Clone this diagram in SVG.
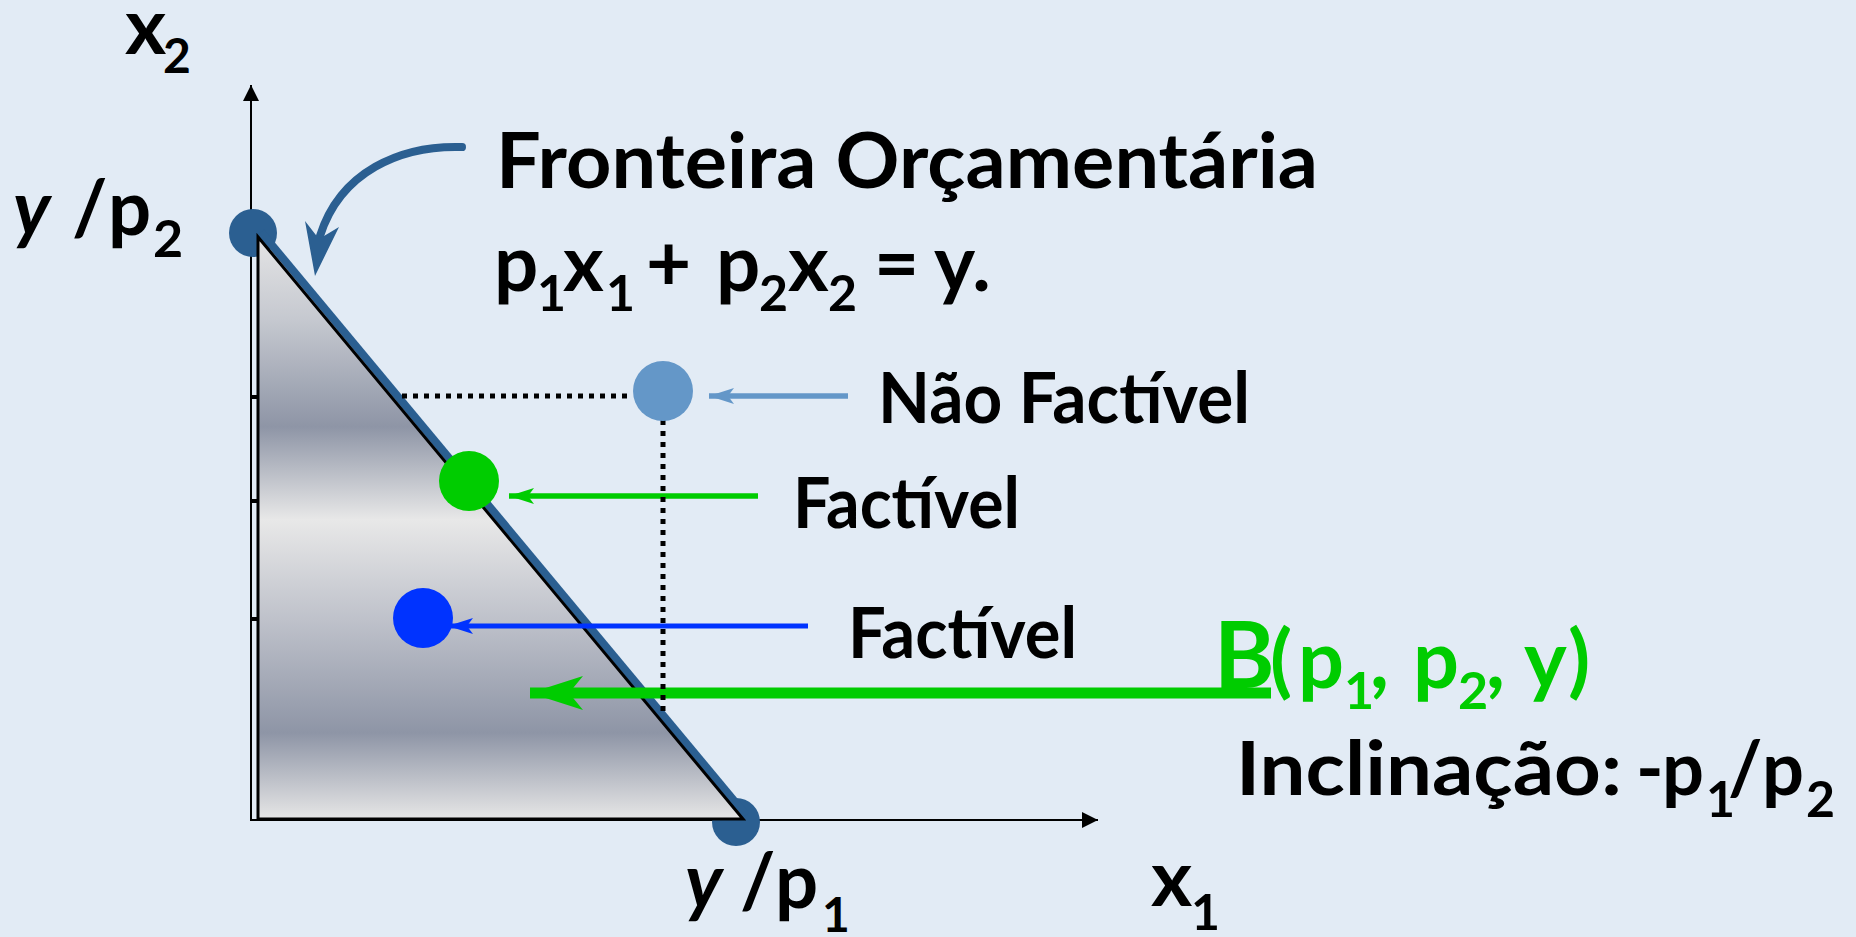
<svg xmlns="http://www.w3.org/2000/svg" width="1856" height="937" viewBox="0 0 1856 937">
<defs>
<style>
.t{font-family:"Lato","Open Sans",sans-serif;font-weight:bold;fill:#000}
.g{fill:#00CC00}
.it{font-style:italic}
.dot{stroke:#000;stroke-width:5;stroke-dasharray:5 6;fill:none}
.ax{stroke:#000;stroke-width:2;fill:none}
</style>
<linearGradient id="chrome" x1="0" y1="0" x2="0" y2="1">
<stop offset="0" stop-color="#E4E4E5"/>
<stop offset="0.14" stop-color="#C6C9D0"/>
<stop offset="0.326" stop-color="#8E95A6"/>
<stop offset="0.486" stop-color="#E8E8E8"/>
<stop offset="0.66" stop-color="#BEC1CA"/>
<stop offset="0.852" stop-color="#8E95A6"/>
<stop offset="1" stop-color="#E6E6E6"/>
</linearGradient>
<marker id="axh" markerUnits="userSpaceOnUse" viewBox="0 0 16 16" refX="16" refY="8" markerWidth="16" markerHeight="16" orient="auto"><path d="M0 0 L16 8 L0 16 Z" fill="#000"/></marker>
<marker id="hLb" markerUnits="userSpaceOnUse" viewBox="0 0 26 16" refX="25" refY="8" markerWidth="26" markerHeight="16" orient="auto"><path d="M0 0 L25 8 L0 16 L6 8 Z" fill="#6497C8"/></marker>
<marker id="hG" markerUnits="userSpaceOnUse" viewBox="0 0 26 16" refX="25" refY="8" markerWidth="26" markerHeight="16" orient="auto"><path d="M0 0 L25 8 L0 16 L6 8 Z" fill="#00CC00"/></marker>
<marker id="hB" markerUnits="userSpaceOnUse" viewBox="0 0 26 16" refX="25" refY="8" markerWidth="26" markerHeight="16" orient="auto"><path d="M0 0 L25 8 L0 16 L6 8 Z" fill="#0033FF"/></marker>
<marker id="hGB" markerUnits="userSpaceOnUse" viewBox="0 0 54 34" refX="53" refY="17" markerWidth="54" markerHeight="34" orient="auto"><path d="M0 0 L53 17 L0 34 L14 17 Z" fill="#00CC00"/></marker>
</defs>
<rect width="1856" height="937" fill="#E2EBF5"/>

<g id="axes">
<line class="ax" x1="251" y1="821" x2="251" y2="85" marker-end="url(#axh)"/>
<line class="ax" x1="250" y1="820" x2="1098" y2="820" marker-end="url(#axh)"/>
<rect x="251" y="395" width="7" height="4" fill="#000"/>
<rect x="251" y="499" width="7" height="4" fill="#000"/>
<rect x="251" y="617" width="7" height="4" fill="#000"/>
</g>

<g id="endpoint-top"><circle cx="253" cy="233" r="24" fill="#2B5F91"/></g>
<g id="endpoint-bottom"><circle cx="736" cy="822" r="24" fill="#2B5F91"/></g>

<g id="budget-set">
<line x1="261" y1="232" x2="746" y2="815" stroke="#2B5F91" stroke-width="8"/>
<polygon points="258,237 258,819 743,819" fill="url(#chrome)" stroke="#000" stroke-width="3" stroke-linejoin="miter"/>
</g>

<g id="connectors">
<path d="M462 147 C400 145 340 172 320 236" fill="none" stroke="#2B5F91" stroke-width="8" stroke-linecap="round"/>
<polygon points="315,276 305,221 319,239 339,227" fill="#2B5F91"/>
<line x1="848" y1="396" x2="709" y2="396" stroke="#6497C8" stroke-width="5.5" marker-end="url(#hLb)"/>
<line x1="758" y1="496" x2="509" y2="496" stroke="#00CC00" stroke-width="5.5" marker-end="url(#hG)"/>
<line x1="808" y1="626" x2="448" y2="626" stroke="#0033FF" stroke-width="5" marker-end="url(#hB)"/>
<line x1="1271" y1="693" x2="530" y2="693" stroke="#00CC00" stroke-width="11" marker-end="url(#hGB)"/>
<line class="dot" x1="402" y1="396" x2="632" y2="396"/>
<line class="dot" x1="663" y1="420" x2="663" y2="712"/>
</g>

<g id="point-nao-factivel"><circle cx="663" cy="391" r="30" fill="#6497C8"/></g>
<g id="point-factivel-green"><circle cx="469" cy="481" r="30" fill="#00CC00"/></g>
<g id="point-factivel-blue"><circle cx="423" cy="618" r="30" fill="#0033FF"/></g>

<g id="labels">
<text class="t" font-size="79" y="54"><tspan x="125">x</tspan><tspan x="163" y="73" font-size="48">2</tspan></text>
<text class="t" font-size="76" y="235"><tspan x="13" class="it">y</tspan><tspan x="72">/</tspan><tspan x="108">p</tspan><tspan x="153" y="257" font-size="52">2</tspan></text>
<text class="t" font-size="76" y="908"><tspan x="685" class="it">y</tspan><tspan x="740">/</tspan><tspan x="775">p</tspan><tspan x="822" y="932" font-size="48">1</tspan></text>
<text class="t" font-size="79" y="906"><tspan x="1151">x</tspan><tspan x="1191" y="930" font-size="50">1</tspan></text>

<text class="t" font-size="77" x="496" y="188" textLength="822" lengthAdjust="spacingAndGlyphs">Fronteira Orçamentária</text>
<text class="t" font-size="78" y="291"><tspan x="494">p</tspan><tspan x="537" y="311" font-size="50">1</tspan><tspan x="563" y="291">x</tspan><tspan x="606" y="311" font-size="50">1</tspan><tspan x="646" y="291">+</tspan><tspan x="716">p</tspan><tspan x="759" y="311" font-size="50">2</tspan><tspan x="788" y="291">x</tspan><tspan x="828" y="311" font-size="50">2</tspan><tspan x="874" y="291">=</tspan><tspan x="934">y.</tspan></text>

<text class="t" font-size="70" x="878" y="423" textLength="372" lengthAdjust="spacingAndGlyphs">Não Factível</text>
<text class="t" font-size="70" x="793" y="528" textLength="227" lengthAdjust="spacingAndGlyphs">Factível</text>
<text class="t" font-size="70" x="848" y="658" textLength="229" lengthAdjust="spacingAndGlyphs">Factível</text>

<text class="t g" font-size="81" y="688"><tspan x="1214" font-size="92">B</tspan><tspan x="1270">(</tspan><tspan x="1298">p</tspan><tspan x="1344" y="709" font-size="52">1</tspan><tspan x="1370" y="688">,</tspan><tspan x="1413">p</tspan><tspan x="1458" y="709" font-size="52">2</tspan><tspan x="1486" y="688">,</tspan><tspan x="1524">y</tspan><tspan x="1568">)</tspan></text>

<text class="t" font-size="74" x="1236" y="795" textLength="386" lengthAdjust="spacingAndGlyphs">Inclinação:</text>
<text class="t" font-size="74" y="795"><tspan x="1636">-</tspan><tspan x="1662">p</tspan><tspan x="1706" y="817" font-size="50">1</tspan><tspan x="1728" y="795">/</tspan><tspan x="1762">p</tspan><tspan x="1806" y="817" font-size="50">2</tspan></text>
</g>
</svg>
